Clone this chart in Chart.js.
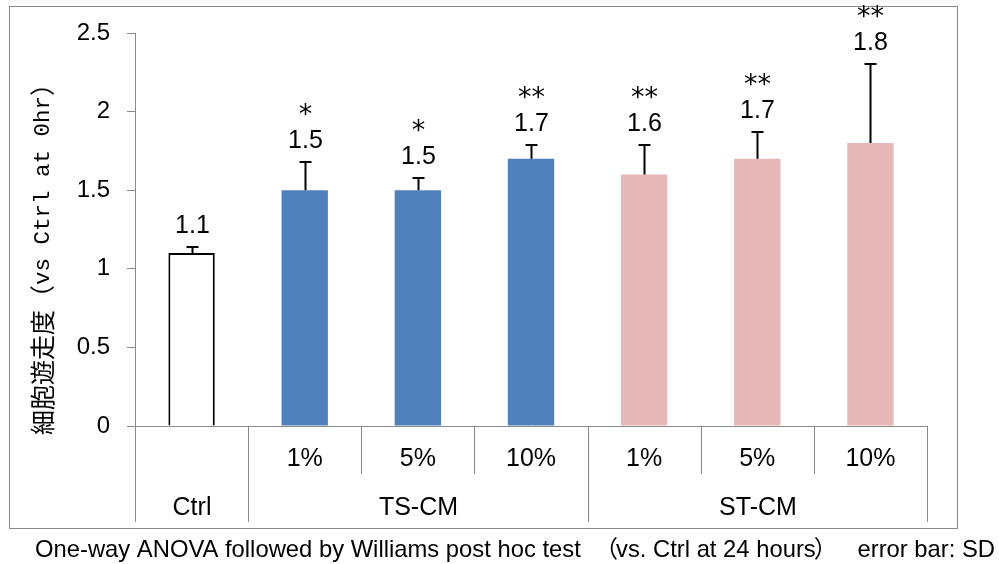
<!DOCTYPE html>
<html>
<head>
<meta charset="utf-8">
<script src="https://cdn.jsdelivr.net/npm/chart.js@4.4.1/dist/chart.umd.min.js"></script>
<style>
  html, body { margin: 0; padding: 0; background: #ffffff; }
  #wrap { width: 999px; height: 564px; }
</style>
</head>
<body>
<div id="wrap"><canvas id="c" width="999" height="564"></canvas></div>
<script>
// ---- data ----
const subLabels   = ['', '1%', '5%', '10%', '1%', '5%', '10%'];
const groupLabels = ['Ctrl', 'TS-CM', 'ST-CM'];
const groupSizes  = [1, 3, 3];
const values      = [1.1, 1.5, 1.5, 1.7, 1.6, 1.7, 1.8];
const sdValues    = [0.04, 0.18, 0.08, 0.09, 0.19, 0.17, 0.5];
const stars       = ['', '*', '*', '**', '**', '**', '**'];
const yMin = 0, yMax = 2.5, yStep = 0.5;
const yTitleJa   = '細胞遊走度（';
const yTitleMono = 'vs Ctrl at 0hr';
const yTitleEnd  = '）';
const noteParts  = ['One-way ANOVA followed by Williams post hoc test', '（', 'vs. Ctrl at 24 hours', '）', 'error bar: SD'];

const colors = ['#ffffff', '#4F81BD', '#4F81BD', '#4F81BD', '#E6B9B8', '#E6B9B8', '#E6B9B8'];
const borders = [2, 0, 0, 0, 0, 0, 0];
const GRAY = '#8a8a8a';
const SANS = "'Liberation Sans', Arial, sans-serif";

const overlay = {
  id: 'overlay',
  afterDraw(chart) {
    const ctx = chart.ctx;
    const x = chart.scales.x, y = chart.scales.y;
    const ca = chart.chartArea;
    ctx.save();

    // outer frame
    ctx.strokeStyle = GRAY;
    ctx.lineWidth = 1;
    ctx.strokeRect(9.5, 6.5, 948, 522);

    // category separators
    const n = values.length;
    const bounds = [];
    for (let i = 0; i <= n; i++) {
      let bx;
      if (i === 0) bx = ca.left;
      else if (i === n) bx = ca.right;
      else bx = (x.getPixelForValue(i - 1) + x.getPixelForValue(i)) / 2;
      bounds.push(Math.round(bx) + 0.5);
    }
    const groupEdges = new Set([0]);
    let acc = 0;
    groupSizes.forEach(s => { acc += s; groupEdges.add(acc); });
    ctx.beginPath();
    for (let i = 0; i <= n; i++) {
      const yEnd = groupEdges.has(i) ? 522 : 474;
      ctx.moveTo(bounds[i], ca.bottom);
      ctx.lineTo(bounds[i], yEnd);
    }
    ctx.stroke();

    // group labels
    ctx.fillStyle = '#000';
    ctx.font = '25px ' + SANS;
    ctx.textAlign = 'center';
    ctx.textBaseline = 'alphabetic';
    let start = 0;
    groupSizes.forEach((s, gi) => {
      const cx = (bounds[start] + bounds[start + s]) / 2;
      ctx.fillText(groupLabels[gi], cx, 506 + 9);
      start += s;
    });

    // error bars (plus direction) + value labels + significance marks
    for (let i = 0; i < n; i++) {
      const cx = Math.round(x.getPixelForValue(i)) + 0.5;
      const yTop = y.getPixelForValue(values[i]);
      const yErr = Math.round(y.getPixelForValue(values[i] + sdValues[i]));
      ctx.strokeStyle = '#000';
      ctx.lineWidth = 2;
      ctx.beginPath();
      ctx.moveTo(cx, yTop);
      ctx.lineTo(cx, yErr);
      ctx.moveTo(cx - 6, yErr);
      ctx.lineTo(cx + 6, yErr);
      ctx.stroke();

      const labelCenter = yErr - 23;
      ctx.fillStyle = '#000';
      ctx.font = '25px ' + SANS;
      ctx.textAlign = 'center';
      ctx.textBaseline = 'alphabetic';
      ctx.fillText(values[i].toFixed(1), cx, labelCenter + 9);
      if (stars[i]) {
        const starCenter = labelCenter - 32;
        ctx.font = "27px 'DejaVu Sans', sans-serif";
        ctx.fillText(stars[i], cx, starCenter + 15.5);
      }
    }

    // y-axis title (rotated)
    ctx.save();
    ctx.translate(42, 253);
    ctx.rotate(-Math.PI / 2);
    ctx.textBaseline = 'middle';
    ctx.textAlign = 'left';
    const fJa = "25px 'Noto Sans CJK JP', sans-serif";
    const fMono = "22.5px 'Liberation Mono', monospace";
    ctx.font = fJa; const w1 = ctx.measureText(yTitleJa).width; const w3 = ctx.measureText(yTitleEnd).width;
    ctx.font = fMono; const w2 = ctx.measureText(yTitleMono).width;
    let tx = -(w1 + w2 + w3) / 2;
    ctx.fillStyle = '#000';
    ctx.font = fJa; ctx.fillText(yTitleJa, tx, 0); tx += w1;
    ctx.font = fMono; ctx.fillText(yTitleMono, tx, 1); tx += w2;
    ctx.font = fJa; ctx.fillText(yTitleEnd, tx, 0);
    ctx.restore();

    // footnote
    ctx.fillStyle = '#000';
    const fNote = "23.8px 'Liberation Sans', sans-serif";
    const fNoteJa = "23.8px 'Noto Sans CJK JP', sans-serif";
    ctx.textBaseline = 'alphabetic';
    ctx.textAlign = 'left';
    ctx.font = fNote;
    ctx.fillText(noteParts[0], 35, 557);
    // "（" glyph ends just before "vs." at ~615
    ctx.font = fNoteJa;
    ctx.textAlign = 'right';
    ctx.fillText(noteParts[1], 618, 557);
    ctx.font = fNote;
    ctx.textAlign = 'left';
    ctx.fillText(noteParts[2], 616, 557);
    const wMid = ctx.measureText(noteParts[2]).width;
    ctx.font = fNoteJa;
    ctx.fillText(noteParts[3], 616 + wMid - 2, 557);
    ctx.font = fNote;
    ctx.textAlign = 'right';
    ctx.fillText(noteParts[4], 995, 557);

    ctx.restore();
  }
};

new Chart(document.getElementById('c'), {
  type: 'bar',
  data: {
    labels: subLabels,
    datasets: [{
      data: values,
      backgroundColor: colors,
      borderColor: '#000000',
      borderWidth: borders,
      barPercentage: 0.41,
      categoryPercentage: 1.0
    }]
  },
  options: {
    responsive: false,
    animation: false,
    devicePixelRatio: 1,
    layout: { padding: { left: 0, top: 33, right: 72, bottom: 0 } },
    plugins: { legend: { display: false }, tooltip: { enabled: false }, title: { display: false } },
    scales: {
      x: {
        grid: { display: false, drawTicks: false },
        border: { display: true, color: GRAY, width: 1 },
        ticks: { color: '#000', font: { family: SANS, size: 25 }, padding: 18, maxRotation: 0, autoSkip: false },
        afterFit(scale) { scale.height = 138; }
      },
      y: {
        min: yMin, max: yMax,
        grid: { display: true, drawOnChartArea: false, drawTicks: true, tickLength: 8, color: GRAY },
        border: { display: true, color: GRAY, width: 1 },
        ticks: { stepSize: yStep, color: '#000', font: { family: SANS, size: 24 }, padding: 17,
                 callback: v => String(v) },
        afterFit(scale) { scale.width = 135; }
      }
    }
  },
  plugins: [overlay]
});
</script>
</body>
</html>
